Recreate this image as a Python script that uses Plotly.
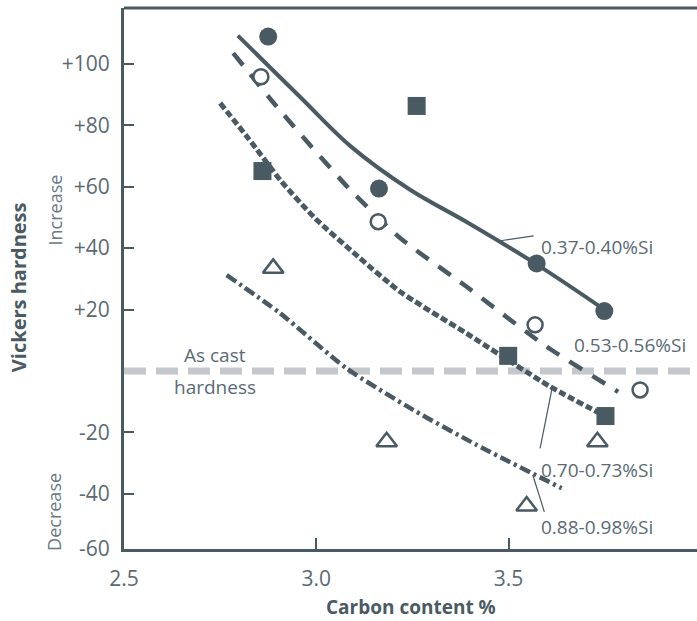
import plotly.graph_objects as go

# ---------------- data ----------------
# Measured points (carbon %, hardness change)
si037_x = [2.875, 3.163, 3.573, 3.749]
si037_y = [108.9, 59.4, 35.0, 19.5]
si053_x = [2.856, 3.161, 3.569, 3.842]
si053_y = [95.8, 48.6, 15.0, -6.2]
si070_x = [2.860, 3.261, 3.499, 3.752]
si070_y = [65.1, 86.3, 4.9, -14.7]
si088_x = [2.888, 3.183, 3.731, 3.547]
si088_y = [33.4, -23.1, -23.1, -44.0]

# Trend curves
c037_x = [2.796, 2.958, 3.088, 3.244, 3.391, 3.573, 3.751]
c037_y = [109.2, 89.2, 73.3, 59.0, 48.5, 34.7, 19.8]
c053_x = [2.784, 2.897, 3.088, 3.218, 3.391, 3.599, 3.785]
c053_y = [103.5, 86.1, 59.0, 43.3, 27.4, 7.9, -6.8]
c070_x = [2.750, 2.823, 2.910, 2.997, 3.109, 3.218, 3.391, 3.608, 3.751]
c070_y = [87.2, 75.8, 61.6, 49.7, 37.2, 25.8, 12.2, -5.1, -14.7]
c088_x = [2.767, 2.906, 3.079, 3.252, 3.417, 3.638]
c088_y = [31.2, 18.8, 0.8, -12.7, -24.1, -38.2]

series_labels = ["0.37-0.40%Si", "0.53-0.56%Si", "0.70-0.73%Si", "0.88-0.98%Si"]
label_x = [3.579, 3.665, 3.579, 3.579]
label_y = [40.2, 8.4, -32.3, -50.7]

x_tickvals = [2.5, 3.0, 3.5]
x_ticktext = ["2.5", "3.0", "3.5"]
y_tickvals = [-58, -40, -20, 20, 40, 60, 80, 100]
y_ticktext = ["-60", "-40", "-20", "+20", "+40", "+60", "+80", "+100"]

DARK = "#4a5a63"
TXT = "#5a6a74"
GRAY = "#c4c8cd"
FONT = "Open Sans"

fig = go.Figure()

def curve(x, y, dash, width, smoothing=0.6):
    fig.add_trace(go.Scatter(x=x, y=y, mode="lines",
                             line=dict(color=DARK, width=width, dash=dash,
                                       shape="spline", smoothing=smoothing),
                             hoverinfo="skip", showlegend=False))

curve(c037_x, c037_y, "solid", 4, 1.0)
curve(c053_x, c053_y, "15px,12px", 4.5)
curve(c070_x, c070_y, "7px,3px", 5)
curve(c088_x, c088_y, "11px,4px,3px,4px", 4.5)

fig.add_trace(go.Scatter(x=si037_x, y=si037_y, mode="markers",
                         marker=dict(symbol="circle", size=18, color=DARK,
                                     line=dict(width=0)), showlegend=False))
fig.add_trace(go.Scatter(x=si053_x, y=si053_y, mode="markers",
                         marker=dict(symbol="circle", size=15, color="white",
                                     line=dict(width=2.5, color=DARK)), showlegend=False))
fig.add_trace(go.Scatter(x=si070_x, y=si070_y, mode="markers",
                         marker=dict(symbol="square", size=18, color=DARK,
                                     line=dict(width=0)), showlegend=False))
fig.add_trace(go.Scatter(x=si088_x, y=si088_y, mode="markers",
                         marker=dict(symbol="triangle-up-open", size=18, color=DARK,
                                     line=dict(width=2.5, color=DARK)), showlegend=False))

shapes = [
    # as-cast reference line
    dict(type="line", xref="paper", yref="y", x0=0, x1=1, y0=0, y1=0,
         line=dict(color=GRAY, width=7, dash="22px,10px"), layer="below"),
    # top frame line
    dict(type="line", xref="paper", yref="paper", x0=0, x1=1, y0=1, y1=1,
         line=dict(color=DARK, width=3)),
    # leader lines
    dict(type="line", xref="x", yref="y", x0=3.565, y0=44.0, x1=3.478, y1=42.4,
         line=dict(color=DARK, width=1.2)),
    dict(type="line", xref="x", yref="y", x0=3.582, y0=-25.2, x1=3.614, y1=-5.1,
         line=dict(color=DARK, width=1.2)),
    dict(type="line", xref="x", yref="y", x0=3.593, y0=-45.9, x1=3.563, y1=-33.9,
         line=dict(color=DARK, width=1.2)),
]

annotations = []
for t, lx, ly in zip(series_labels, label_x, label_y):
    annotations.append(dict(x=lx, y=ly, xref="x", yref="y", text=t, showarrow=False,
                            xanchor="left", yanchor="middle",
                            font=dict(family=FONT, size=19, color=TXT)))
annotations += [
    dict(x=2.737, y=5.3, xref="x", yref="y", text="As cast", showarrow=False,
         xanchor="center", yanchor="middle",
         font=dict(family=FONT, size=19, color=TXT)),
    dict(x=2.737, y=-5.1, xref="x", yref="y", text="hardness", showarrow=False,
         xanchor="center", yanchor="middle",
         font=dict(family=FONT, size=19, color=TXT)),
    dict(x=-0.185, y=0.484, xref="paper", yref="paper", text="<b>Vickers hardness</b>",
         showarrow=False, textangle=-90, xanchor="center", yanchor="middle",
         font=dict(family=FONT, size=20, color=DARK)),
    dict(x=-0.121, y=0.627, xref="paper", yref="paper", text="Increase",
         showarrow=False, textangle=-90, xanchor="center", yanchor="middle",
         font=dict(family=FONT, size=18, color="#6a7982")),
    dict(x=-0.121, y=0.068, xref="paper", yref="paper", text="Decrease",
         showarrow=False, textangle=-90, xanchor="center", yanchor="middle",
         font=dict(family=FONT, size=18, color="#6a7982")),
    dict(x=0.501, y=-0.107, xref="paper", yref="paper", text="<b>Carbon content %</b>",
         showarrow=False, xanchor="center", yanchor="middle",
         font=dict(family=FONT, size=19, color=DARK)),
]

fig.update_layout(
    width=697, height=621,
    margin=dict(l=124, r=0, t=8, b=72),
    plot_bgcolor="white", paper_bgcolor="white",
    shapes=shapes, annotations=annotations,
    showlegend=False,
    xaxis=dict(range=[2.5, 3.99], tickvals=x_tickvals, ticktext=x_ticktext,
               showgrid=False, zeroline=False, showline=True, linecolor=DARK,
               linewidth=3, ticks="inside", ticklen=11, tickwidth=2, tickcolor=DARK,
               tickfont=dict(family=FONT, size=21, color=TXT),
               ticklabelstandoff=9),
    yaxis=dict(range=[-58, 118.2], tickvals=y_tickvals, ticktext=y_ticktext,
               showgrid=False, zeroline=False, showline=True, linecolor=DARK,
               linewidth=3, ticks="inside", ticklen=10, tickwidth=2, tickcolor=DARK,
               tickfont=dict(family=FONT, size=21, color=TXT),
               ticklabelstandoff=7),
)

fig.write_html("out.html")
